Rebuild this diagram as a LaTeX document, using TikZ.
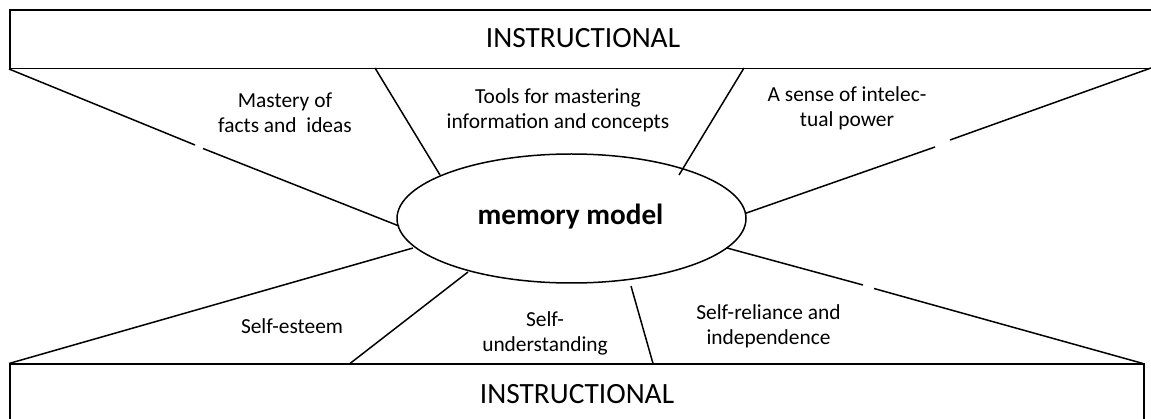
\documentclass[tikz,border=0pt]{standalone}
\usepackage{fontspec}
\setmainfont{Carlito}
\usetikzlibrary{shapes.geometric}
\begin{document}
\begin{tikzpicture}[x=1pt,y=-1pt,line width=1.5pt,
  band/.style={draw,rectangle,inner sep=0pt,anchor=north west},
  lbl/.style={align=center,inner sep=0pt,font=\fontsize{21.4}{25}\selectfont},
  title/.style={inner sep=0pt,font=\fontsize{29.4}{33}\selectfont}]
\useasboundingbox (0,0) rectangle (1151,419);
% bands
\node[band,minimum width=1160pt,minimum height=58.5pt] (top) at (9,9.5) {};
\node[band,minimum width=1134pt,minimum height=70pt] (bot) at (9,363.5) {};
\node[title] (ttop) at (583,38) {INSTRUCTIONAL};
\node[title] (tbot) at (577,394) {INSTRUCTIONAL};
% ellipse
\node[draw,ellipse,minimum width=349pt,minimum height=129pt,inner sep=0pt] (mem) at (571.5,218.5) {};
\node[inner sep=0pt,font=\fontsize{29.2}{32}\bfseries\selectfont] (mt) at (570.5,217) {memory model};
% coordinates
\coordinate (a1) at (9,69);
\coordinate (a2) at (195,145);
\coordinate (a3) at (203,148.5);
\coordinate (a4) at (399,226);
\coordinate (b1) at (375,68);
\coordinate (b2) at (440,175);
\coordinate (c1) at (744,68);
\coordinate (c2) at (679,175);
\coordinate (d1) at (1151,68);
\coordinate (d2) at (950,140);
\coordinate (d3) at (935,147);
\coordinate (d4) at (745,213.5);
\coordinate (e1) at (9,363.5);
\coordinate (e2) at (413,248);
\coordinate (f1) at (350,363.5);
\coordinate (f2) at (468,272);
\coordinate (g1) at (631,286);
\coordinate (g2) at (653,363.5);
\coordinate (h1) at (727,248);
\coordinate (h2) at (863,285);
\coordinate (h3) at (874,288.5);
\coordinate (h4) at (1143,363.5);
% connectors
\draw (a1) -- (a2);
\draw (a3) -- (a4);
\draw (b1) -- (b2);
\draw (c1) -- (c2);
\draw (d1) -- (d2);
\draw (d3) -- (d4);
\draw (e1) -- (e2);
\draw (f1) -- (f2);
\draw (g1) -- (g2);
\draw (h1) -- (h2);
\draw (h3) -- (h4);
% labels
\node[lbl] (l1) at (285,113) {Mastery of\\facts and\ \ ideas};
\node[lbl] (l2) at (558,110) {Tools for mastering\\information and concepts};
\node[lbl] (l3) at (847,108) {A sense of intelec-\\tual power};
\node[lbl] (l4) at (292,326) {Self-esteem};
\node[lbl] (l5) at (545,333) {Self-\\understanding};
\node[lbl] (l6) at (768.5,326) {Self-reliance and\\independence};
\end{tikzpicture}
\end{document}
